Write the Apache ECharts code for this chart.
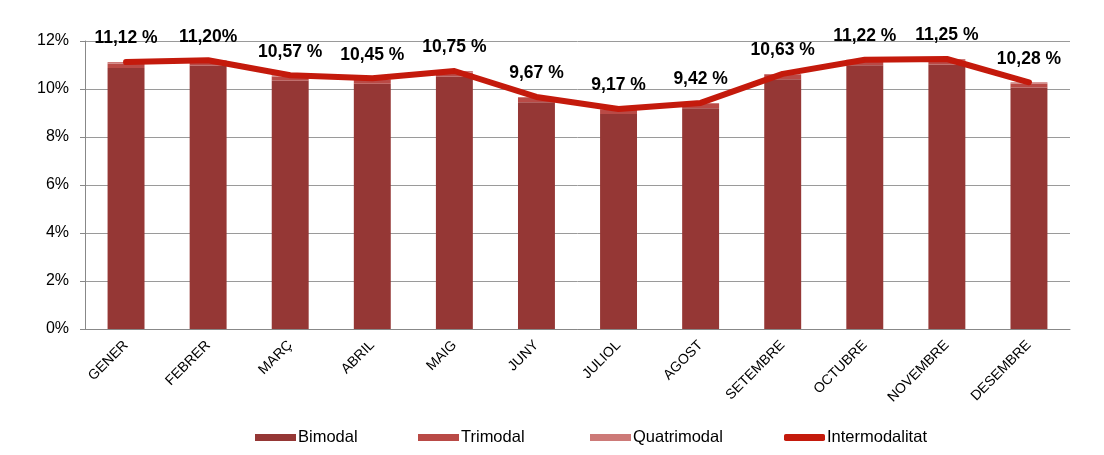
<!DOCTYPE html>
<html>
<head>
<meta charset="utf-8">
<script src="https://cdn.jsdelivr.net/npm/echarts@6/dist/echarts.min.js"></script>
<style>
  html, body { margin: 0; padding: 0; background: #fff; }
  #chart { width: 1104px; height: 455px; }
</style>
</head>
<body>
<div id="chart"></div>
<script>
var months = ['GENER', 'FEBRER', 'MARÇ', 'ABRIL', 'MAIG', 'JUNY', 'JULIOL', 'AGOST', 'SETEMBRE', 'OCTUBRE', 'NOVEMBRE', 'DESEMBRE'];
var bimodal = [10.88, 10.98, 10.35, 10.22, 10.52, 9.45, 8.96, 9.20, 10.41, 10.99, 11.02, 10.06];
var trimodal = [0.18, 0.17, 0.17, 0.18, 0.17, 0.17, 0.16, 0.17, 0.17, 0.18, 0.18, 0.17];
var quatrimodal = [0.06, 0.05, 0.05, 0.05, 0.06, 0.05, 0.05, 0.05, 0.05, 0.05, 0.05, 0.05];
var intermodalitat = [11.12, 11.20, 10.57, 10.45, 10.75, 9.67, 9.17, 9.42, 10.63, 11.22, 11.25, 10.28];
var labelText = ['11,12 %', '11,20%', '10,57 %', '10,45 %', '10,75 %', '9,67 %', '9,17 %', '9,42 %', '10,63 %', '11,22 %', '11,25 %', '10,28 %'];
var yTicks = [0, 2, 4, 6, 8, 10, 12];

var font = 'Liberation Sans, Arial, sans-serif';
var lineColor = '#c41a0c';

var chart = echarts.init(document.getElementById('chart'));

function barSeries(name, data, color) {
  return {
    name: name,
    type: 'bar',
    stack: 'modal',
    barWidth: '45%',
    data: data,
    itemStyle: { color: color },
    emphasis: { disabled: true }
  };
}

// one legend per item so each can sit where the original puts it
function legendItem(name, left, icon) {
  return {
    top: 424,
    left: left,
    itemWidth: 41,
    itemHeight: 7,
    textStyle: { fontSize: 16.5, color: '#000', fontFamily: font, padding: [0, 0, 0, -3] },
    data: [{ name: name, icon: icon }]
  };
}

var option = {
  animation: false,
  textStyle: { fontFamily: font },
  grid: { left: 85, right: 34, top: 41, bottom: 126 },
  legend: [
    legendItem('Bimodal', 250, 'rect'),
    legendItem('Trimodal', 413, 'rect'),
    legendItem('Quatrimodal', 585, 'rect'),
    legendItem('Intermodalitat', 779, 'roundRect')
  ],
  xAxis: {
    type: 'category',
    data: months,
    axisLine: { lineStyle: { color: '#888', width: 1 } },
    axisTick: { show: false },
    axisLabel: {
      rotate: 45,
      interval: 0,
      fontSize: 14,
      color: '#000',
      margin: 14,
      fontFamily: font
    }
  },
  yAxis: {
    type: 'value',
    min: 0,
    max: 12,
    interval: 2,
    axisLine: { show: true, lineStyle: { color: '#888' } },
    axisTick: { show: true, length: 5, lineStyle: { color: '#888' } },
    splitLine: { lineStyle: { color: '#9a9a9a', width: 1 } },
    axisLabel: {
      fontSize: 16,
      color: '#000',
      margin: 16,
      fontFamily: font,
      formatter: function (v) { return yTicks.indexOf(v) >= 0 ? v + '%' : ''; }
    }
  },
  series: [
    barSeries('Bimodal', bimodal, '#953735'),
    barSeries('Trimodal', trimodal, '#b94a46'),
    barSeries('Quatrimodal', quatrimodal, '#cd7a78'),
    {
      name: 'Intermodalitat',
      type: 'line',
      data: intermodalitat,
      symbol: 'circle',
      symbolSize: 1,
      showSymbol: true,
      lineStyle: { color: lineColor, width: 6, cap: 'round', join: 'round' },
      itemStyle: { color: lineColor },
      label: {
        show: true,
        position: 'top',
        distance: 14,
        fontSize: 17.5,
        fontWeight: 'bold',
        color: '#000',
        fontFamily: font,
        formatter: function (p) { return labelText[p.dataIndex]; }
      },
      emphasis: { disabled: true },
      z: 5
    }
  ]
};

chart.setOption(option);
</script>
</body>
</html>
